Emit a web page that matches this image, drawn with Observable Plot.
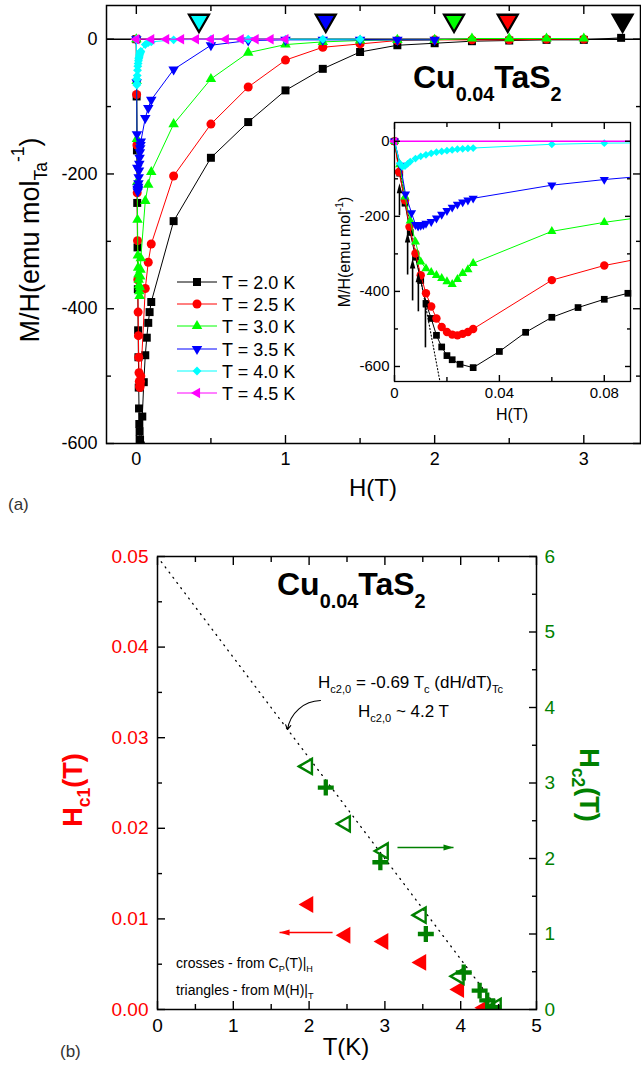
<!DOCTYPE html>
<html>
<head>
<meta charset="utf-8">
<script src="https://cdn.jsdelivr.net/npm/d3@7"></script>
<script src="https://cdn.jsdelivr.net/npm/@observablehq/plot@0.6"></script>
<style>
  html, body { margin: 0; padding: 0; background: #fff; overflow: hidden; }
  #wrap { position: relative; width: 641px; height: 1066px; overflow: hidden; background: #fff; }
  #wrap svg { position: absolute; }
</style>
</head>
<body>
<div id="wrap"></div>
<script>
const FONT = '"Liberation Sans", Arial, Helvetica, sans-serif';

// ================= DATA : panel (a) =================
const seriesLabels = ["T = 2.0 K", "T = 2.5 K", "T = 3.0 K", "T = 3.5 K", "T = 4.0 K", "T = 4.5 K"];
const seriesColors = ["#000000", "#ff0000", "#00ff00", "#0000ff", "#00ffff", "#ff00ff"];

const H_20 = [0, 0.002, 0.004, 0.006, 0.008, 0.010, 0.012, 0.014, 0.016, 0.018, 0.020, 0.022, 0.025, 0.030, 0.040, 0.050, 0.060, 0.070, 0.080, 0.089, 0.10, 0.25, 0.50, 0.75, 1.00, 1.25, 1.50, 1.75, 2.00, 2.25, 2.50, 2.75, 3.00, 3.25];
const M_20 = [0, -85, -165, -243, -309, -371, -432, -472, -517, -548, -571, -582, -594, -603, -560, -509, -469, -443, -421, -405, -390, -270, -176, -123, -76, -44, -19, -9, -6, -3, -2, -1, -1, 2];

const H_25 = [0, 0.0017, 0.004, 0.0057, 0.008, 0.010, 0.012, 0.014, 0.016, 0.018, 0.020, 0.022, 0.024, 0.026, 0.028, 0.030, 0.06, 0.08, 0.10, 0.25, 0.5, 0.75, 1.0, 1.25, 1.5, 1.75, 2.0, 2.25, 2.5, 2.75, 3.0];
const M_25 = [0, -82, -157, -228, -299, -357, -405, -440, -472, -495, -508, -515, -517, -513, -508, -500, -370, -331, -304, -203, -126, -71, -31, -12, -7, -2, -1, -1, -1, 0, 0];

const H_30 = [0, 0.002, 0.004, 0.006, 0.008, 0.010, 0.012, 0.014, 0.016, 0.018, 0.020, 0.022, 0.024, 0.026, 0.028, 0.030, 0.06, 0.08, 0.10, 0.25, 0.5, 0.75, 1.0, 1.25, 1.5, 1.75, 2.0, 2.25, 2.5, 2.75, 3.0];
const M_30 = [0, -62, -148, -212, -268, -321, -339, -349, -357, -365, -374, -381, -368, -352, -342, -325, -240, -216, -197, -126, -59, -20, -8, -4, -2, -1, -1, 1, 1, 1, 1];

const H_35 = [0, 0.0023, 0.0042, 0.0065, 0.008, 0.009, 0.010, 0.011, 0.012, 0.014, 0.016, 0.018, 0.020, 0.022, 0.024, 0.026, 0.028, 0.030, 0.06, 0.08, 0.10, 0.25, 0.5, 0.75, 1.0, 1.25, 1.5, 1.75, 2.0];
const M_35 = [0, -64, -141, -191, -222, -226, -224, -222, -219, -214, -205, -195, -185, -176, -168, -162, -157, -152, -117, -102, -90, -45, -9, -2, -1, -1, -1, -1, -1];

const H_40 = [0, 0.002, 0.003, 0.004, 0.005, 0.006, 0.008, 0.010, 0.012, 0.014, 0.016, 0.018, 0.020, 0.022, 0.024, 0.026, 0.028, 0.030, 0.06, 0.08, 0.10, 0.25, 0.5, 0.75, 1.0, 1.25, 1.5];
const M_40 = [0, -59, -68, -66, -60, -54, -46, -40, -36, -32, -29, -27, -25, -23, -21, -20, -19, -18, -8, -5, -4, -1, 0, 0, 0, 0, 0];

const H_45 = [0, 0.1, 0.2, 0.3, 0.4, 0.5, 0.6, 0.7, 0.8, 0.9, 1.0];
const M_45 = [0, 0, 0, 0, 0, 0, 0, 0, 0, 0, 0];

// Hc2 onset markers (big down-triangles at the top of panel a)
const onsetH = [3.26, 2.49, 2.13, 1.27, 0.42];
const onsetColors = ["#000000", "#ff0000", "#00ff00", "#0000ff", "#00ffff"];

// inset: Hc1 arrows (H position, tail and tip in M/H)
const arrowH = [0.0118, 0.0091, 0.0069, 0.0050, 0.0019];
const arrowTail = [-549, -453, -424, -355, -197];
const arrowTip = [-416, -349, -312, -243, -112];
// inset: Meissner dotted line
const meissnerH = [0, 0.0176];
const meissnerM = [0, -650];

// axis ticks
const aXTicks = [0, 1, 2, 3];
const aYTicks = [-600, -400, -200, 0];
const insetXTicks = [0, 0.04, 0.08];
const insetYTicks = [-600, -400, -200, 0];

// ================= DATA : panel (b) =================
const hc1T = [1.99, 2.48, 2.98, 3.48, 3.98, 4.31];
const hc1 = [0.0116, 0.0082, 0.0075, 0.0052, 0.0022, 0.0002];
const hc2MT = [1.98, 2.48, 2.98, 3.48, 3.98, 4.47];
const hc2M = [3.22, 2.46, 2.10, 1.25, 0.44, 0.04];
const hc2CpT = [2.22, 2.94, 3.54, 4.04, 4.25, 4.35, 4.43];
const hc2Cp = [2.94, 1.95, 1.00, 0.49, 0.25, 0.12, 0.03];
const fitT = [0.05, 4.5];
const fitHc2 = [5.93, 0];
const bXTicks = [0, 1, 2, 3, 4, 5];
const bLeftTicks = [0, 0.01, 0.02, 0.03, 0.04, 0.05];
const bRightTicks = [0, 1, 2, 3, 4, 5, 6];
// annotation arrows in (b)
const curveArrow = {T1: 2.15, H1: 0.0341, T2: 1.715, H2: 0.0309};
const greenArrow = {T1: 3.166, T2: 3.905, Hc2: 2.146};
const redArrow = {T1: 2.31, T2: 1.61, Hc1: 0.0085};

// ================= helpers =================
const SQ3 = Math.sqrt(3);
const triDown = {draw(ctx, size) { const a = Math.sqrt(4 * size / SQ3), h = a * SQ3 / 2;
  ctx.moveTo(-a / 2, -h / 3); ctx.lineTo(a / 2, -h / 3); ctx.lineTo(0, 2 * h / 3); ctx.closePath(); }};
const triLeft = {draw(ctx, size) { const a = Math.sqrt(4 * size / SQ3), h = a * SQ3 / 2;
  ctx.moveTo(-2 * h / 3, 0); ctx.lineTo(h / 3, -a / 2); ctx.lineTo(h / 3, a / 2); ctx.closePath(); }};
const plusSym = {draw(ctx, size) { const L = Math.sqrt(size) * 0.9, t = L * 0.27;
  ctx.moveTo(-L, -t); ctx.lineTo(-t, -t); ctx.lineTo(-t, -L); ctx.lineTo(t, -L); ctx.lineTo(t, -t); ctx.lineTo(L, -t);
  ctx.lineTo(L, t); ctx.lineTo(t, t); ctx.lineTo(t, L); ctx.lineTo(-t, L); ctx.lineTo(-t, t); ctx.lineTo(-L, t); ctx.closePath(); }};
function headSym(dx, dy, L, w) {
  return {draw(ctx) { const px = -dy, py = dx;
    ctx.moveTo(0, 0);
    ctx.lineTo(-dx * L + px * w / 2, -dy * L + py * w / 2);
    ctx.lineTo(-dx * L - px * w / 2, -dy * L - py * w / 2);
    ctx.closePath(); }};
}
const headUp = headSym(0, -1, 10, 5.5);
const headRight = headSym(1, 0, 10, 6);
const headLeft = headSym(-1, 0, 10, 6);

const symbols = ["square", "circle", "triangle", triDown, "diamond2", triLeft];
const mainR = [4.5, 4.5, 3.9, 3.9, 4.0, 3.9];
const insetR = [3.8, 4.2, 3.4, 3.4, 3.5, 3.4];

function frameTicks(scale, anchor, major, minor, L, l) {
  const A = scale === "x" ? Plot.axisX : Plot.axisY;
  return [
    A({anchor, ticks: major, tickSize: -L, tickFormat: () => "", label: null, strokeWidth: 1.4}),
    A({anchor, ticks: minor, tickSize: -l, tickFormat: () => "", label: null, strokeWidth: 1.4})
  ];
}
function tickLabels(scale, anchor, ticks, fmt, size, pad, color = "#000") {
  const A = scale === "x" ? Plot.axisX : Plot.axisY;
  return A({anchor, ticks, tickSize: 0, tickPadding: pad, tickFormat: fmt, fontSize: size, label: null, color});
}
function rich(sel, x, y, parts, o = {}) {
  const size = o.size || 16;
  const t = sel.append("text")
    .attr("transform", `translate(${x},${y}) rotate(${o.rotate || 0})`)
    .attr("text-anchor", o.anchor || "start")
    .attr("font-family", FONT).attr("font-size", size)
    .attr("font-weight", o.weight || "normal")
    .attr("fill", o.fill || "#000");
  let off = 0;
  for (const [s, k, f] of parts) {
    const target = k === "sub" ? size * (o.subShift ?? 0.3) : k === "sup" ? -size * (o.supShift ?? 0.45) : 0;
    t.append("tspan").attr("dy", target - off).attr("font-size", k === "n" ? size : size * (f || 0.65)).text(s);
    off = target;
  }
  return t;
}
const wrap = document.getElementById("wrap");
function place(svg, left, top) {
  svg.style.position = "absolute"; svg.style.left = left + "px"; svg.style.top = top + "px";
  svg.style.background = "transparent"; svg.style.overflow = "visible"; svg.style.maxWidth = "none";
  wrap.appendChild(svg);
  return d3.select(svg);
}
const style = {background: "transparent", fontFamily: FONT, overflow: "visible"};

const seriesH = [H_20, H_25, H_30, H_35, H_40, H_45];
const seriesM = [M_20, M_25, M_30, M_35, M_40, M_45];
const seriesData = seriesH.map((H, i) => H.map((h, j) => ({H: h, M: seriesM[i][j]})));

// ================= PANEL (a) main =================
const mainMarks = [Plot.ruleY([0], {strokeWidth: 1.6})];
seriesData.forEach((d, i) => {
  mainMarks.push(Plot.line(d, {x: "H", y: "M", stroke: seriesColors[i], strokeWidth: 1, clip: true}));
  mainMarks.push(Plot.dot(d, {x: "H", y: "M", symbol: symbols[i], fill: seriesColors[i], r: mainR[i], clip: true}));
});
onsetH.forEach((h, i) => {
  mainMarks.push(Plot.dotX([h], {x: d => d, frameAnchor: "top", dy: 15, symbol: triDown, r: 7.4,
    fill: onsetColors[i], stroke: "#000", strokeWidth: 2.3}));
});

const pa = Plot.plot({
  width: 641, height: 520, marginLeft: 106, marginRight: 1, marginTop: 5, marginBottom: 77,
  x: {domain: [-0.2, 3.38]}, y: {domain: [-600, 50]}, style,
  marks: [
    ...mainMarks,
    ...frameTicks("x", "bottom", aXTicks, [0.5, 1.5, 2.5], 8, 5),
    ...frameTicks("x", "top", aXTicks, [0.5, 1.5, 2.5], 8, 5),
    ...frameTicks("y", "left", aYTicks, [-500, -300, -100], 8, 5),
    ...frameTicks("y", "right", aYTicks, [-500, -300, -100], 8, 5),
    tickLabels("x", "bottom", aXTicks, d => String(d), 18, 9),
    tickLabels("y", "left", aYTicks, d => String(d), 18, 9),
    Plot.frame({strokeWidth: 1.5})
  ]
});
const sa = place(pa, 0, 0);
// legend
const legY = [282, 304, 326, 349, 371, 393];
seriesLabels.forEach((lab, i) => {
  sa.append("line").attr("x1", 177).attr("x2", 217).attr("y1", legY[i]).attr("y2", legY[i])
    .attr("stroke", seriesColors[i]).attr("stroke-width", 1);
  const st = typeof symbols[i] === "string"
    ? {square: d3.symbolSquare, circle: d3.symbolCircle, triangle: d3.symbolTriangle, diamond2: d3.symbolDiamond2}[symbols[i]]
    : symbols[i];
  sa.append("path").attr("d", d3.symbol(st, Math.PI * mainR[i] * mainR[i])())
    .attr("transform", `translate(197,${legY[i]})`).attr("fill", seriesColors[i]);
  sa.append("text").attr("x", 222).attr("y", legY[i] + 6.5).attr("text-anchor", "start")
    .attr("font-family", FONT).attr("font-size", 18).attr("fill", "#000").text(lab);
});
rich(sa, 413, 88, [["Cu", "n"], ["0.04", "sub", 0.62], ["TaS", "n"], ["2", "sub", 0.62]], {size: 32, weight: "bold", subShift: 0.42});
rich(sa, 39, 240, [["M/H(emu mol", "n"], ["Ta", "sub"], ["-1", "sup"], [")", "n"]], {size: 27, rotate: -90, anchor: "middle", supShift: 0.55});
rich(sa, 373, 496, [["H(T)", "n"]], {size: 24, anchor: "middle"});
rich(sa, 8, 510, [["(a)", "n"]], {size: 17, fill: "#333"});

// ================= PANEL (a) inset =================
const insetMarks = [
  Plot.line(meissnerH.map((h, i) => ({H: h, M: meissnerM[i]})), {x: "H", y: "M", stroke: "#000", strokeWidth: 1.1, strokeDasharray: "1.2,2.2", clip: true})
];
seriesData.forEach((d, i) => {
  insetMarks.push(Plot.line(d, {x: "H", y: "M", stroke: seriesColors[i], strokeWidth: i === 5 ? 1.6 : 1, clip: true}));
  insetMarks.push(Plot.dot(d.filter(p => p.H <= 0.09), {x: "H", y: "M", symbol: symbols[i], fill: seriesColors[i], r: insetR[i]}));
});
const arrows = arrowH.map((h, i) => ({H: h, tail: arrowTail[i], tip: arrowTip[i]}));
insetMarks.push(Plot.link(arrows, {x1: "H", x2: "H", y1: "tail", y2: d => d.tip - 20, stroke: "#000", strokeWidth: 1.6}));
insetMarks.push(Plot.dot(arrows, {x: "H", y: "tip", symbol: headUp, r: 3, fill: "#000"}));

const pi = Plot.plot({
  width: 311, height: 320, marginLeft: 64, marginRight: 11, marginTop: 12, marginBottom: 49,
  x: {domain: [0, 0.09]}, y: {domain: [-640, 50]}, style,
  marks: [
    ...insetMarks,
    ...frameTicks("x", "bottom", insetXTicks, [0.02, 0.06], 6, 4),
    ...frameTicks("x", "top", insetXTicks, [0.02, 0.06], 6, 4),
    ...frameTicks("y", "left", insetYTicks, [-500, -300, -100], 6, 4),
    ...frameTicks("y", "right", insetYTicks, [-500, -300, -100], 6, 4),
    tickLabels("x", "bottom", insetXTicks, d => String(d), 15, 6),
    tickLabels("y", "left", insetYTicks, d => String(d), 15, 5),
    Plot.frame({strokeWidth: 1.3})
  ]
});
const si = place(pi, 330, 110);
rich(si, 20, 142, [["M/H(emu mol", "n"], ["-1", "sup"], [")", "n"]], {size: 16, rotate: -90, anchor: "middle"});
rich(si, 182, 310, [["H(T)", "n"]], {size: 16, anchor: "middle"});

// ================= PANEL (b) =================
const k = 0.05 / 6; // right axis (Hc2, T) -> left axis units
const pb = Plot.plot({
  width: 641, height: 526, marginLeft: 157, marginRight: 105, marginTop: 16, marginBottom: 57,
  x: {domain: [0, 5]}, y: {domain: [0, 0.05]}, style,
  marks: [
    Plot.line(fitT.map((t, i) => ({T: t, v: fitHc2[i]})), {x: "T", y: d => d.v * k, stroke: "#000", strokeWidth: 1.3, strokeDasharray: "1,5.5"}),
    Plot.dot(hc1T.map((t, i) => ({T: t, v: hc1[i]})), {x: "T", y: "v", symbol: triLeft, r: 6.3, fill: "#ff0000", clip: true}),
    Plot.dot(hc2MT.map((t, i) => ({T: t, v: hc2M[i]})), {x: "T", y: d => d.v * k, symbol: triLeft, r: 5.6, fill: "none", stroke: "#008000", strokeWidth: 2.4, clip: true}),
    Plot.dot(hc2CpT.map((t, i) => ({T: t, v: hc2Cp[i]})), {x: "T", y: d => d.v * k, symbol: plusSym, r: 5, fill: "#008000", clip: true}),
    // annotation arrows
    Plot.arrow([curveArrow], {x1: "T1", y1: "H1", x2: "T2", y2: "H2", bend: -40, headLength: 7, strokeWidth: 1.1, stroke: "#000"}),
    Plot.link([greenArrow], {x1: "T1", x2: "T2", y1: d => d.Hc2 * k, y2: d => d.Hc2 * k, stroke: "#008000", strokeWidth: 1.6}),
    Plot.dot([greenArrow], {x: "T2", y: d => d.Hc2 * k, symbol: headRight, r: 3, fill: "#008000"}),
    Plot.link([redArrow], {x1: "T1", x2: "T2", y1: "Hc1", y2: "Hc1", stroke: "#ff0000", strokeWidth: 1.6}),
    Plot.dot([redArrow], {x: "T2", y: "Hc1", symbol: headLeft, r: 3, fill: "#ff0000"}),
    ...frameTicks("x", "bottom", bXTicks, [0.5, 1.5, 2.5, 3.5, 4.5], 8, 5),
    ...frameTicks("x", "top", bXTicks, [0.5, 1.5, 2.5, 3.5, 4.5], 8, 5),
    ...frameTicks("y", "left", bLeftTicks, [0.005, 0.015, 0.025, 0.035, 0.045], 8, 5),
    ...frameTicks("y", "right", bRightTicks.map(v => v * k), [0.5, 1.5, 2.5, 3.5, 4.5, 5.5].map(v => v * k), 8, 5),
    tickLabels("x", "bottom", bXTicks, d => String(d), 19, 9),
    tickLabels("y", "left", bLeftTicks, d3.format(".2f"), 19, 9, "#ff0000"),
    tickLabels("y", "right", bRightTicks.map(v => v * k), d => String(Math.round(d / k)), 19, 8, "#008000"),
    Plot.frame({strokeWidth: 1.5})
  ]
});
const sb = place(pb, 0, 540);
rich(sb, 277, 55, [["Cu", "n"], ["0.04", "sub", 0.62], ["TaS", "n"], ["2", "sub", 0.62]], {size: 32, weight: "bold", subShift: 0.42});
rich(sb, 318, 148, [["H", "n"], ["c2,0", "sub"], [" = -0.69 T", "n"], ["c", "sub"], [" (dH/dT)", "n"], ["Tc", "sub"]], {size: 17});
rich(sb, 358, 177, [["H", "n"], ["c2,0", "sub"], [" ~ 4.2 T", "n"]], {size: 17});
rich(sb, 176, 428, [["crosses - from C", "n"], ["P", "sub"], ["(T)|", "n"], ["H", "sub"]], {size: 14});
rich(sb, 176, 455, [["triangles - from M(H)|", "n"], ["T", "sub"]], {size: 14});
rich(sb, 82, 250, [["H", "n"], ["c1", "sub"], ["(T)", "n"]], {size: 27, weight: "bold", rotate: -90, anchor: "middle", fill: "#ff0000"});
rich(sb, 580, 245, [["H", "n"], ["c2", "sub"], ["(T)", "n"]], {size: 27, weight: "bold", rotate: 90, anchor: "middle", fill: "#008000"});
rich(sb, 346, 515, [["T(K)", "n"]], {size: 24, anchor: "middle"});
rich(sb, 60, 517, [["(b)", "n"]], {size: 17, fill: "#333"});
</script>
</body>
</html>
